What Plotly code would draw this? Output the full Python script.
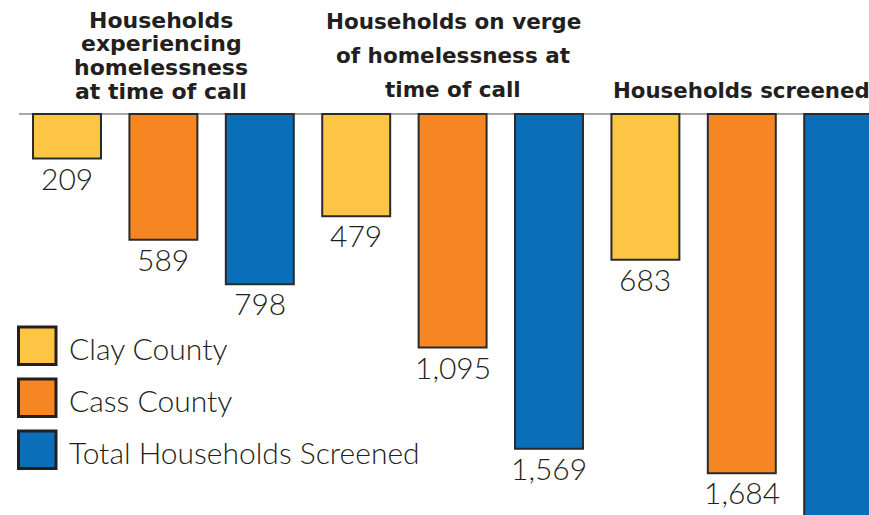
import plotly.graph_objects as go

# ---- data ----
group_titles = [
    ["Households", "experiencing", "homelessness", "at time of call"],
    ["Households on verge", "of homelessness at", "time of call"],
    ["Households screened"],
]
series_names = ["Clay County", "Cass County", "Total Households Screened"]
clay = [209, 479, 683]
cass = [589, 1095, 1684]
total = [798, 1569, 2367]
series_values = [clay, cass, total]
series_colors = ["#FDC544", "#F58621", "#0A6EB9"]

W, H = 869, 515
TEXT = "#231F20"
EDGE = "#2A2A2A"

def px(x):
    return x / W

def py(y):
    return 1 - y / H

fig = go.Figure()
for s, (name, vals, col) in enumerate(zip(series_names, series_values, series_colors)):
    xs = [g * 3 + s for g in range(len(vals))]
    fig.add_trace(go.Bar(
        x=xs, y=vals, name=name, width=0.705,
        marker=dict(color=col, line=dict(color=EDGE, width=2)),
        showlegend=False, hoverinfo="skip",
    ))
    for x, v in zip(xs, vals):
        fig.add_annotation(
            x=x, y=v, xref="x", yref="y", text=f"{v:,}", showarrow=False,
            xanchor="center", yanchor="middle", yshift=-19,
            font=dict(family="Lato", size=30, color=TEXT, weight=300),
        )

# group titles (one annotation per line)
title_specs = [
    dict(x=161, baselines=[28, 51.7, 75.4, 99], size=22, anchor="center"),
    dict(x=453, baselines=[29, 63, 97], size=21.5, anchor="center"),
    dict(x=611, baselines=[98], size=21.3, anchor="left"),
]
for lines, spec in zip(group_titles, title_specs):
    for line, b in zip(lines, spec["baselines"]):
        fig.add_annotation(
            x=px(spec["x"]), y=py(b - 0.36 * spec["size"]), xref="paper", yref="paper",
            text=f"<b>{line}</b>", showarrow=False,
            xanchor=spec["anchor"], yanchor="middle",
            font=dict(family="DejaVu Sans", size=spec["size"], color=TEXT),
        )

# baseline rule
fig.add_shape(type="line", xref="paper", yref="y", x0=px(19), x1=1, y0=0, y1=0,
              line=dict(color="#8A8A8A", width=1.5), layer="below")

# legend
leg_tops = [327, 379, 431]
for name, col, top in zip(series_names, series_colors, leg_tops):
    fig.add_shape(type="rect", xref="paper", yref="paper",
                  x0=px(18.5), x1=px(56), y0=py(top), y1=py(top + 37.5),
                  fillcolor=col, line=dict(color=TEXT, width=3))
    fig.add_annotation(
        x=px(67), y=py(top + 21), xref="paper", yref="paper", text=name,
        showarrow=False, xanchor="left", yanchor="middle",
        font=dict(family="Lato", size=30, color=TEXT, weight=300),
    )

pitch = 96.4
c0 = 67
fig.update_layout(
    width=W, height=H,
    margin=dict(l=0, r=0, t=0, b=0),
    paper_bgcolor="white", plot_bgcolor="white",
    barmode="overlay",
    xaxis=dict(range=[-c0 / pitch, (W - c0) / pitch], visible=False, fixedrange=True),
    yaxis=dict(range=[(H - 114) / 0.2133, -114 / 0.2133], visible=False, fixedrange=True),
)

fig.write_html("out.html",
               config={"displayModeBar": False},
               post_script="document.body.style.margin='0';document.body.style.overflow='hidden';")
